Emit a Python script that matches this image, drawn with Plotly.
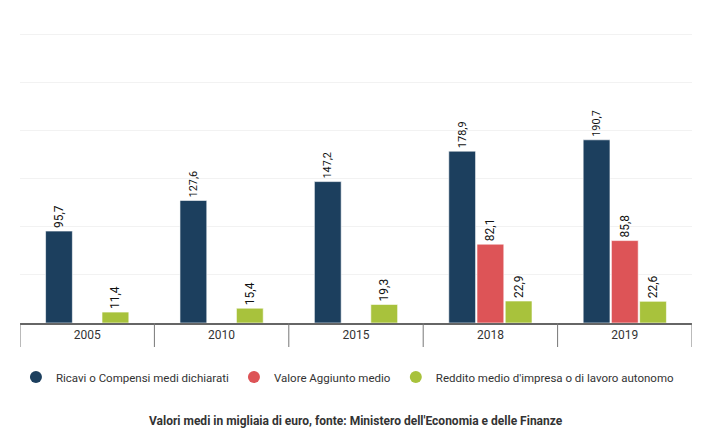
import plotly.graph_objects as go

years = ["2005", "2010", "2015", "2018", "2019"]
ricavi = [95.7, 127.6, 147.2, 178.9, 190.7]
valore = [None, None, None, 82.1, 85.8]
reddito = [11.4, 15.4, 19.3, 22.9, 22.6]

series_names = ["Ricavi o Compensi medi dichiarati", "Valore Aggiunto medio",
                "Reddito medio d'impresa o di lavoro autonomo"]
colors = ["#1c3f5e", "#dd5457", "#a8c23c"]
footer = "Valori medi in migliaia di euro, fonte: Ministero dell'Economia e delle Finanze"

FONT = "Roboto"
PLOT_H = 293  # plot height in px

fig = go.Figure()
for name, vals, col in zip(series_names, [ricavi, valore, reddito], colors):
    fig.add_trace(go.Bar(
        x=years, y=vals, name=name, marker_color=col,
        marker_line=dict(color="rgba(255,255,255,0.6)", width=1),
        texttemplate="%{y:.1f}", textposition="outside", textangle=-90,
        textfont=dict(family=FONT, size=12, color="#111"),
        cliponaxis=False, showlegend=False, hoverinfo="x+y+name",
    ))
    fig.add_trace(go.Scatter(
        x=[None], y=[None], mode="markers", name=name,
        marker=dict(symbol="circle", size=15, color=col), showlegend=True,
    ))

# category divider ticks below the axis
for i in range(len(years) + 1):
    fig.add_shape(type="line", xref="x", yref="paper",
                  x0=i - 0.5, x1=i - 0.5, y0=0, y1=-24 / PLOT_H,
                  line=dict(color="#777", width=1))

fig.update_layout(
    width=713, height=432,
    margin=dict(l=20, r=21, t=30, b=109, autoexpand=False),
    paper_bgcolor="white", plot_bgcolor="white",
    separators=",.",
    barmode="group", bargap=0.37, bargroupgap=0.05,
    font=dict(family=FONT, size=12, color="#333"),
    legend=dict(orientation="h", x=0.488, xanchor="center", y=-54 / PLOT_H, yanchor="middle",
                font=dict(family=FONT, size=11.5, color="#333"),
                itemsizing="constant", traceorder="normal"),
    annotations=[dict(text="<b>" + footer + "</b>", xref="paper", yref="paper",
                      x=0.5, y=-98 / PLOT_H, xanchor="center", yanchor="middle",
                      showarrow=False, font=dict(family=FONT, size=12, color="#333"))],
)
fig.update_xaxes(type="category", range=[-0.5, len(years) - 0.5],
                 showline=True, linecolor="#666", linewidth=2,
                 ticks="",
                 tickfont=dict(family=FONT, size=12, color="#333"),
                 showgrid=False, fixedrange=True)
fig.update_yaxes(range=[0, 305], dtick=50, showgrid=True, gridcolor="#f2f2f2",
                 gridwidth=1, showticklabels=False, zeroline=False, showline=False,
                 fixedrange=True)

fig.write_html("out.html", config={"displayModeBar": False},
               post_script="document.body.style.margin='0';document.body.style.overflow='hidden';")
